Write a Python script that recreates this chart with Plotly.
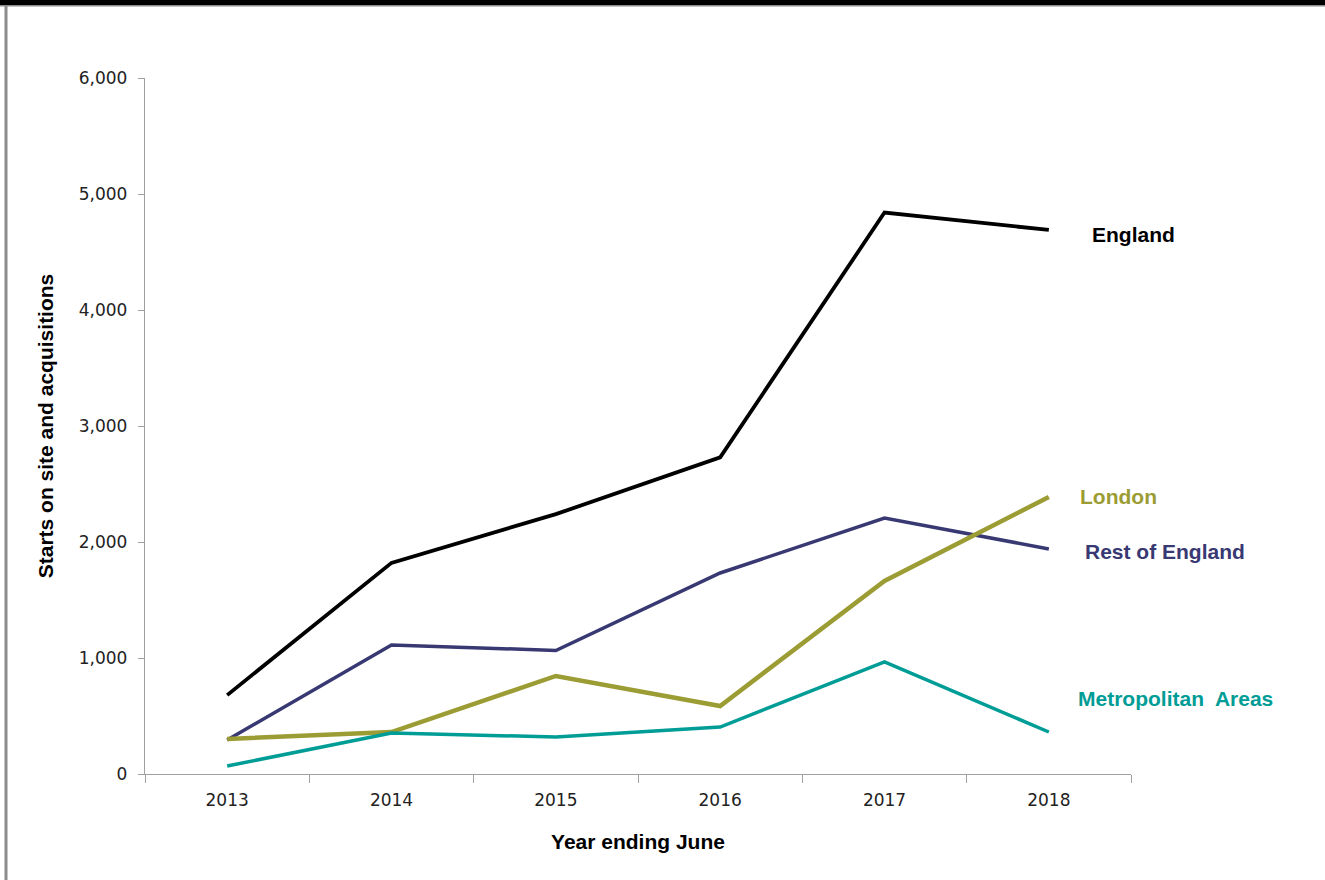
import plotly.graph_objects as go

years = ["2013", "2014", "2015", "2016", "2017", "2018"]
england = [680, 1820, 2240, 2730, 4840, 4690]
rest_of_england = [293, 1112, 1065, 1733, 2207, 1940]
london = [302, 362, 845, 586, 1664, 2388]
metropolitan = [69, 353, 319, 405, 966, 362]

y_ticks = [0, 1000, 2000, 3000, 4000, 5000, 6000]

series = [
    ("England", england, "#000000", 3.8),
    ("Rest of England", rest_of_england, "#383872", 3.5),
    ("London", london, "#9C9C34", 4.5),
    ("Metropolitan Areas", metropolitan, "#009C96", 3.5),
]

fig = go.Figure()
for name, vals, color, width in series:
    fig.add_trace(go.Scatter(
        x=years, y=vals, mode="lines", name=name,
        line=dict(color=color, width=width),
        hoverinfo="x+y+name",
    ))

# end-of-line labels
label_pos = [
    ("England", "#000000", 1090, 234),
    ("London", "#9C9C34", 1078, 496),
    ("Rest of England", "#383872", 1083, 551),
    ("Metropolitan&nbsp; Areas", "#009C96", 1076, 698),
]
L, R, T, B = 145, 194, 78, 106
W, H = 1325, 880
pw, ph = W - L - R, H - T - B
for text, color, px, py in label_pos:
    fig.add_annotation(
        text=f"<b>{text}</b>", xref="paper", yref="paper",
        x=(px - L) / pw, y=1 - (py - T) / ph,
        xanchor="left", yanchor="middle", showarrow=False,
        font=dict(family="Liberation Sans, Arial, sans-serif", size=21, color=color),
    )

# frame: black strip on top, grey rules below it and down the left side
fig.add_shape(type="rect", xref="paper", yref="paper",
              x0=(0 - L) / pw, x1=(W - L) / pw,
              y0=1 + (T - 5) / ph, y1=1 + (T + 5) / ph,
              fillcolor="#000000", line=dict(width=0), layer="above")
fig.add_shape(type="line", xref="paper", yref="paper",
              x0=(0 - L) / pw, x1=(W - L) / pw,
              y0=1 + (T - 5.8) / ph, y1=1 + (T - 5.8) / ph,
              line=dict(color="#8C8C8C", width=1.6))
fig.add_shape(type="line", xref="paper", yref="paper",
              x0=(6 - L) / pw, x1=(6 - L) / pw,
              y0=1 + (T - 5) / ph, y1=-(B + 5) / ph,
              line=dict(color="#8C8C8C", width=3))

tick_font = dict(family="DejaVu Sans, Verdana, sans-serif", size=17, color="#222222")
title_font = dict(family="Liberation Sans, Arial, sans-serif", size=21, color="#000000")

fig.update_layout(
    width=W, height=H,
    margin=dict(l=L, r=R, t=T, b=B, pad=0),
    paper_bgcolor="#FFFFFF", plot_bgcolor="#FFFFFF",
    showlegend=False,
    xaxis=dict(
        type="category", range=[-0.5, 5.5],
        showline=True, linecolor="#A0A0A0", linewidth=1.3,
        ticks="outside", tickson="boundaries", ticklen=8, tickcolor="#A0A0A0",
        tickwidth=1.3, showgrid=False, zeroline=False,
        tickfont=tick_font, ticklabelstandoff=10,
        title=dict(text="<b>Year ending June</b>", font=title_font, standoff=25),
    ),
    yaxis=dict(
        range=[0, 6000], tickvals=y_ticks, tickformat=",",
        showline=True, linecolor="#A0A0A0", linewidth=1.3,
        ticks="outside", ticklen=6, tickcolor="#A0A0A0", tickwidth=1.3,
        showgrid=False, zeroline=False,
        tickfont=tick_font, ticklabelstandoff=7,
        title=dict(text="<b>Starts on site and acquisitions</b>", font=title_font, standoff=19),
    ),
)

fig.write_html("out.html")
